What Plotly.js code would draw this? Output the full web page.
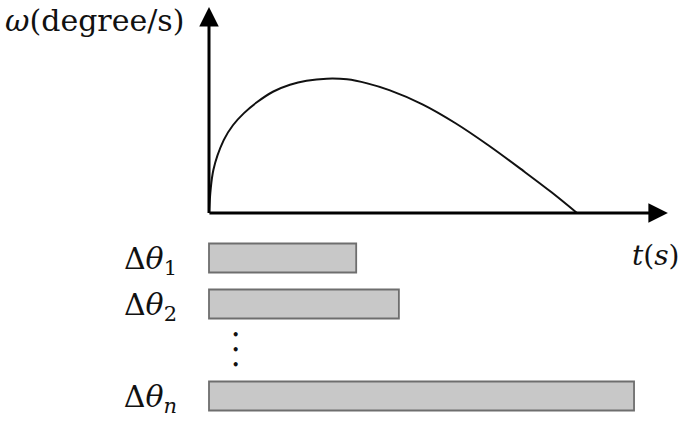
<!DOCTYPE html>
<html>
<head>
<meta charset="utf-8">
<script src="https://cdn.plot.ly/plotly-3.0.1.min.js"></script>
<style>html,body{margin:0;padding:0;background:#fff;}#chart{width:685px;height:425px;}</style>
</head>
<body>
<div id="chart"></div>
<script>
// Angular velocity curve (schematic)
const timeValues  = [0, 0.12, 0.4, 0.65, 0.95, 1.3, 1.75, 2.2, 2.65, 3.2, 3.75, 4.3, 4.9, 5.8, 6.7, 7.6, 8.55, 9.3, 10];
const omegaValues = [0, 32, 54, 65, 74, 82, 90, 95, 98, 99.5, 99, 96, 91, 80.5, 66.5, 50, 31, 15.5, 0];

// Rotation-angle bars
const barCategories = ['d1', 'd2', 'dots', 'dn'];
const barDurations  = [4.0, 5.16, null, 11.55];
const barTickText   = ['Δ<i>θ</i><sub>1</sub>', 'Δ<i>θ</i><sub>2</sub>', '', 'Δ<i>θ</i><sub><i>n</i></sub>'];

// Axis extents of the drawn arrows
const timeAxisEnd = 12.47;
const omegaAxisEnd = 152.6;

const W = 685, H = 425;
const ox = 209, oy = 213, pxPerT = 36.8, pxPerW = 1.35;
const xRange = [-ox / pxPerT, (W - ox) / pxPerT];
const yRange = [(oy - H) / pxPerW, oy / pxPerW];
const barSlot = 46, bar1Y = 258;
const y2Range = [(H - bar1Y) / barSlot, -bar1Y / barSlot];

const traces = [
  {
    type: 'scatter', mode: 'lines',
    x: timeValues, y: omegaValues,
    line: {color: '#111111', width: 2, shape: 'spline', smoothing: 1.0},
    xaxis: 'x', yaxis: 'y', hoverinfo: 'skip', showlegend: false
  },
  {
    type: 'bar', orientation: 'h',
    x: barDurations, y: barCategories, base: 0,
    width: 29 / barSlot,
    marker: {color: '#c8c8c8', line: {color: '#6e6e6e', width: 1.8}},
    xaxis: 'x', yaxis: 'y2', hoverinfo: 'skip', showlegend: false
  }
];

const serif = 'DejaVu Serif, Liberation Serif, serif';

const layout = {
  width: W, height: H, autosize: false,
  margin: {l: 0, r: 0, t: 0, b: 0, pad: 0},
  paper_bgcolor: '#ffffff', plot_bgcolor: '#ffffff',
  showlegend: false,
  xaxis: {range: xRange, domain: [0, 1], visible: false, fixedrange: true},
  yaxis: {range: yRange, domain: [0, 1], visible: false, fixedrange: true},
  yaxis2: {
    type: 'category', overlaying: 'y', anchor: 'free', position: ox / W,
    range: y2Range, domain: [0, 1],
    categoryorder: 'array', categoryarray: barCategories,
    tickmode: 'array', tickvals: barCategories, ticktext: barTickText,
    ticks: 'outside', ticklen: 26, tickcolor: 'rgba(0,0,0,0)',
    showline: false, showgrid: false, zeroline: false,
    tickfont: {family: serif, size: 30, color: '#111'},
    fixedrange: true
  },
  annotations: [
    // time axis arrow
    {xref: 'x', yref: 'y', axref: 'x', ayref: 'y', x: timeAxisEnd, y: 0, ax: -0.03, ay: 0,
     text: '', showarrow: true, arrowhead: 2, arrowwidth: 3, arrowsize: 1.3, arrowcolor: '#000', standoff: 0, startstandoff: 0},
    // omega axis arrow
    {xref: 'x', yref: 'y', axref: 'x', ayref: 'y', x: 0, y: omegaAxisEnd, ax: 0, ay: -1.2,
     text: '', showarrow: true, arrowhead: 2, arrowwidth: 3, arrowsize: 1.3, arrowcolor: '#000', standoff: 0, startstandoff: 0},
    // axis titles
    {xref: 'paper', yref: 'paper', x: 94 / W, y: 1 - 20 / H, xanchor: 'center', yanchor: 'middle',
     text: '<i>ω</i>(degree/s)', showarrow: false, font: {family: serif, size: 30, color: '#111'}},
    {xref: 'paper', yref: 'paper', x: 656 / W, y: 1 - 255 / H, xanchor: 'center', yanchor: 'middle',
     text: '<i>t</i>(<i>s</i>)', showarrow: false, font: {family: serif, size: 28, color: '#111'}},
    // ellipsis between bars
    {xref: 'x', yref: 'y2', x: 0.72, y: 'dots', xanchor: 'center', yanchor: 'middle',
     text: '<b>•</b><br><b>•</b><br><b>•</b>', showarrow: false, font: {family: 'DejaVu Sans', size: 11.5, color: '#111'}}
  ]
};

Plotly.newPlot('chart', traces, layout, {displayModeBar: false, staticPlot: true});
</script>
</body>
</html>
